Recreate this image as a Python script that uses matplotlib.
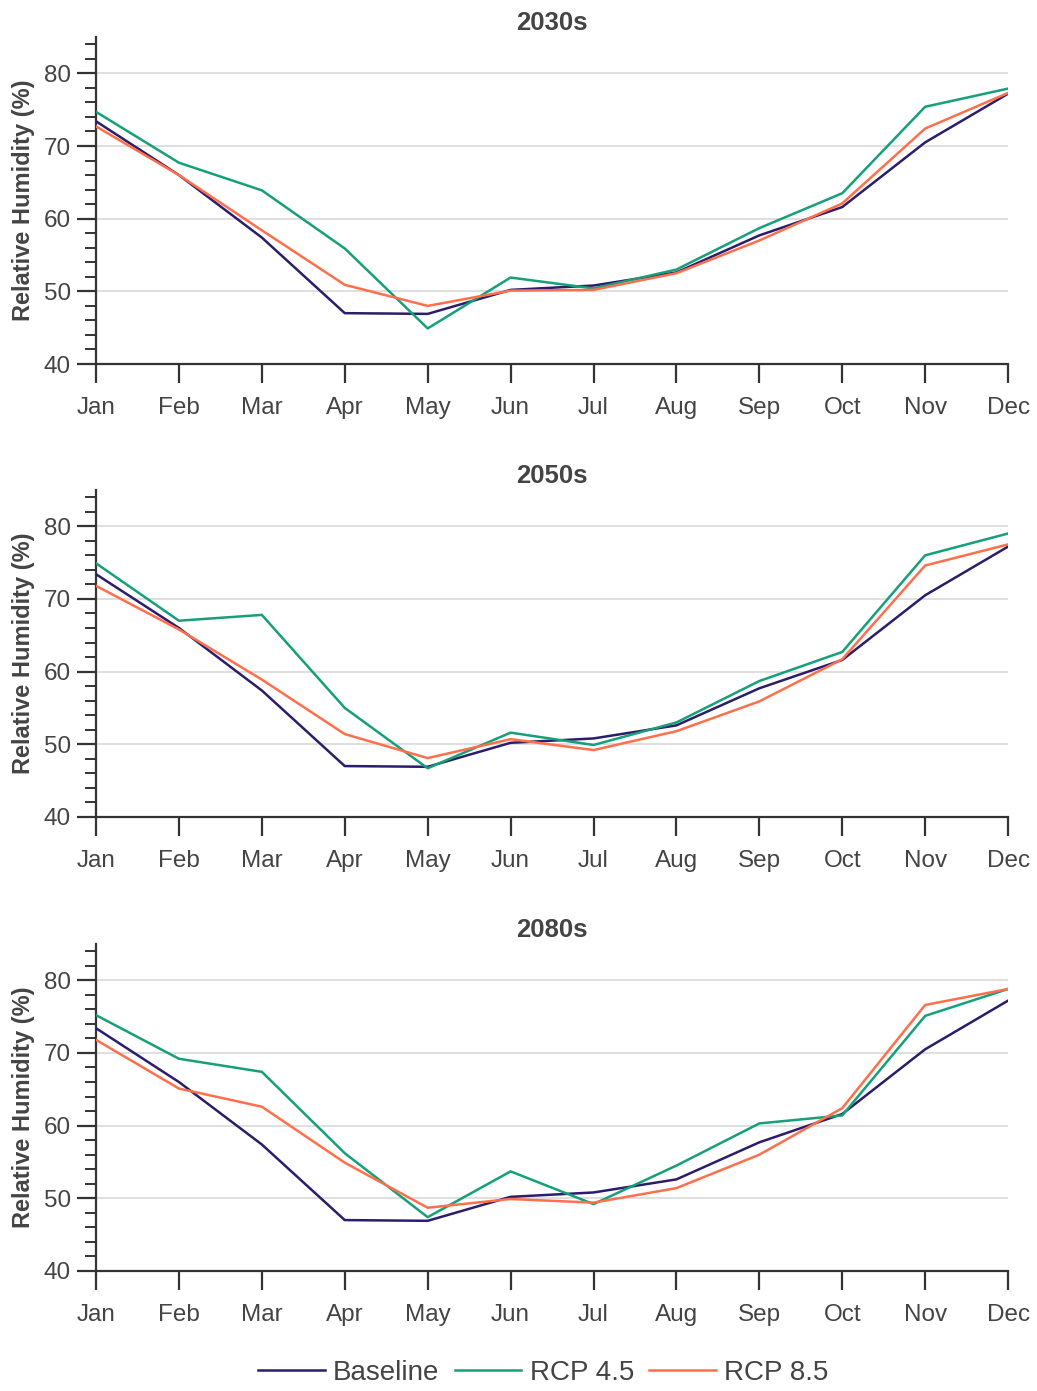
import matplotlib
matplotlib.use("Agg")
import matplotlib.pyplot as plt
from matplotlib.ticker import MultipleLocator
from matplotlib.lines import Line2D

plt.rcParams['font.family'] = ['Liberation Sans', 'DejaVu Sans']

months = ["Jan", "Feb", "Mar", "Apr", "May", "Jun", "Jul", "Aug", "Sep", "Oct", "Nov", "Dec"]
periods = ["2030s", "2050s", "2080s"]
series_names = ["Baseline", "RCP 4.5", "RCP 8.5"]

baseline = [73.4, 66.0, 57.4, 47.0, 46.9, 50.2, 50.8, 52.6, 57.7, 61.6, 70.5, 77.2]

rcp45_2030 = [74.7, 67.7, 63.9, 55.9, 44.9, 51.9, 50.4, 53.0, 58.7, 63.5, 75.4, 77.9]
rcp85_2030 = [72.7, 66.0, 58.4, 50.9, 48.0, 50.1, 50.2, 52.5, 57.0, 62.1, 72.4, 77.3]

rcp45_2050 = [74.9, 67.0, 67.8, 55.0, 46.7, 51.6, 49.9, 53.0, 58.7, 62.7, 76.0, 79.0]
rcp85_2050 = [71.8, 65.8, 58.9, 51.4, 48.1, 50.7, 49.2, 51.8, 55.9, 61.7, 74.6, 77.5]

rcp45_2080 = [75.2, 69.2, 67.4, 56.2, 47.4, 53.7, 49.2, 54.5, 60.3, 61.4, 75.1, 78.8]
rcp85_2080 = [71.8, 65.1, 62.6, 54.9, 48.7, 49.9, 49.4, 51.4, 56.0, 62.4, 76.6, 78.8]

rcp45 = [rcp45_2030, rcp45_2050, rcp45_2080]
rcp85 = [rcp85_2030, rcp85_2050, rcp85_2080]

colors = ["#2b1d6b", "#15a079", "#ff6f4c"]
text_col = "#444444"
spine_col = "#333333"

fig = plt.figure(figsize=(10.37, 13.91), dpi=100)
bottoms = [0.7383, 0.4127, 0.0863]
left, width, height = 0.0926, 0.8795, 0.2351

x = list(range(len(months)))
for i, p in enumerate(periods):
    ax = fig.add_axes([left, bottoms[i], width, height])
    ax.grid(axis='y', color='#dcdcdc', linewidth=1.3, zorder=0)
    ax.set_axisbelow(True)
    ax.plot(x, baseline, color=colors[0], lw=1.8, zorder=3)
    ax.plot(x, rcp45[i], color=colors[1], lw=1.8, zorder=3)
    ax.plot(x, rcp85[i], color=colors[2], lw=1.8, zorder=3)
    ax.set_xlim(0, 11)
    ax.set_ylim(40, 85)
    ax.set_xticks(x)
    ax.set_xticklabels(months)
    ax.set_yticks([40, 50, 60, 70, 80])
    ax.yaxis.set_minor_locator(MultipleLocator(2))
    for s in ['top', 'right']:
        ax.spines[s].set_visible(False)
    for s in ['left', 'bottom']:
        ax.spines[s].set_color(spine_col)
        ax.spines[s].set_linewidth(1.6)
    ax.tick_params(axis='x', which='major', length=14, width=1.6, color=spine_col,
                   labelsize=17.5, labelcolor=text_col, pad=10)
    ax.tick_params(axis='y', which='major', length=14, width=1.6, color=spine_col,
                   labelsize=17.5, labelcolor=text_col, pad=4)
    ax.tick_params(axis='y', which='minor', length=8, width=1.4, color=spine_col)
    ax.set_title(p, fontsize=18.5, fontweight='bold', color=text_col, pad=5)
    ax.set_ylabel("Relative Humidity (%)", fontsize=17, fontweight='bold', color=text_col)
    ax.yaxis.set_label_coords(-0.067, 0.5)

handles = [Line2D([0], [0], color=c, lw=1.8) for c in colors]
fig.legend(handles, series_names, loc='center', bbox_to_anchor=(0.524, 0.013), ncol=3,
           frameon=False, fontsize=20, handlelength=2.4, handletextpad=0.3,
           columnspacing=0.55, labelcolor=text_col)

fig.savefig("out.png", dpi=100, facecolor='white')
